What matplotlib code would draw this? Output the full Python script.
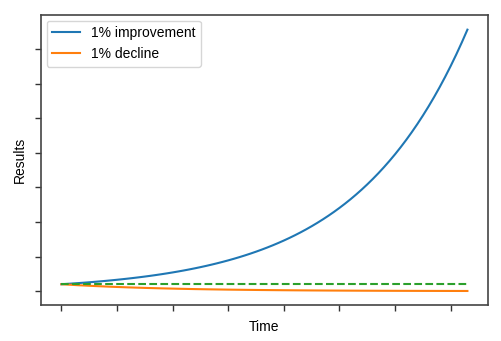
import matplotlib
matplotlib.use("Agg")
import matplotlib.pyplot as plt

plt.rcParams['font.family'] = ['Liberation Sans', 'DejaVu Sans']

improve_days = list(range(0, 370, 5))
improvement = [1.0000, 1.0510, 1.1046, 1.1610, 1.2202, 1.2825, 1.3478, 1.4166, 1.4889, 1.5648,
               1.6446, 1.7285, 1.8167, 1.9094, 2.0068, 2.1091, 2.2167, 2.3298, 2.4486, 2.5735,
               2.7048, 2.8428, 2.9878, 3.1402, 3.3004, 3.4688, 3.6457, 3.8318, 4.0272, 4.2327,
               4.4484, 4.6753, 4.9138, 5.1645, 5.4279, 5.7048, 5.9958, 6.3016, 6.6231, 6.9609,
               7.3160, 7.6892, 8.0814, 8.4936, 8.9269, 9.3823, 9.8609, 10.364, 10.893, 11.448,
               12.032, 12.646, 13.291, 13.969, 14.682, 15.431, 16.218, 17.045, 17.915, 18.829,
               19.788, 20.798, 21.859, 22.974, 24.146, 25.377, 26.672, 28.032, 29.462, 30.966,
               32.545, 34.205, 35.950, 37.783]
decline_days = [0, 15, 30, 45, 60, 75, 90, 105, 120, 135, 150, 165, 180, 195, 210,
                225, 240, 255, 270, 285, 300, 315, 330, 345, 360, 365]
decline = [1.0, 0.860, 0.740, 0.636, 0.547, 0.471, 0.405, 0.348, 0.299, 0.258,
           0.221, 0.191, 0.164, 0.141, 0.121, 0.104, 0.0896, 0.0771, 0.0663, 0.057,
           0.049, 0.0422, 0.0363, 0.0312, 0.0268, 0.0255]
baseline_x = [0, 365]
baseline_y = [1.0, 1.0]
x_ticks = [0, 50, 100, 150, 200, 250, 300, 350]
y_ticks = [0, 5, 10, 15, 20, 25, 30, 35]

fig = plt.figure(figsize=(5.02, 3.41), dpi=100)
ax = fig.add_axes([41/502, 1 - 305/341, 447/502, 290/341])

ax.plot(improve_days, improvement, color='#1f77b4', lw=1.5, label='1% improvement')
ax.plot(decline_days, decline, color='#ff7f0e', lw=1.5, label='1% decline')
ax.plot(baseline_x, baseline_y, color='#2ca02c', lw=1.5, ls='--')

ax.set_xlim(-18.3, 383.5)
ax.set_ylim(-2.0, 39.9)
ax.set_xticks(x_ticks)
ax.set_yticks(y_ticks)
ax.set_xticklabels([])
ax.set_yticklabels([])
for s in ax.spines.values():
    s.set_color('#444444')
    s.set_linewidth(1.2)
ax.tick_params(color='#333333', length=4, width=1)
ax.set_xlabel('Time', fontsize=10, labelpad=3)
ax.set_ylabel('Results', fontsize=10, labelpad=3)
ax.legend(loc='upper left', fontsize=10, frameon=True, borderaxespad=0.4)

fig.savefig('out.png', dpi=100)
